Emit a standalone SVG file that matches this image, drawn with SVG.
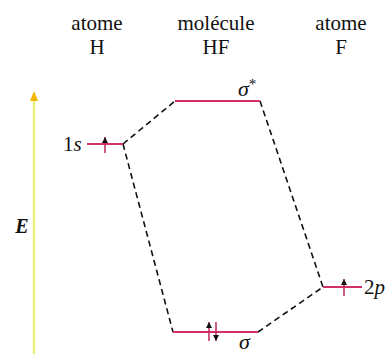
<svg xmlns="http://www.w3.org/2000/svg" width="386" height="354" viewBox="0 0 386 354">
<defs>
<style>
text{font-family:"Liberation Serif","Times New Roman",serif;fill:#111}
.t{font-size:21px;text-anchor:middle}
.lvl{stroke:#d2306a;stroke-width:2;fill:none}
.el{stroke:#c0245a;stroke-width:1.5;fill:none}
.dash{stroke:#111;stroke-width:1.6;stroke-dasharray:6,4;fill:none}
.sym{font-style:italic;font-size:22px}
</style>
<marker id="ah" markerWidth="6" markerHeight="6" refX="6" refY="3" orient="auto" markerUnits="userSpaceOnUse">
<path d="M0,0 L6,3 L0,6 Z" fill="#111"/>
</marker>
</defs>
<rect width="386" height="354" fill="#fff"/>
<g id="headers">
<text class="t" x="97" y="30">atome</text>
<text class="t" x="97" y="54">H</text>
<text class="t" x="216" y="30">molécule</text>
<text class="t" x="216" y="54">HF</text>
<text class="t" x="341" y="30">atome</text>
<text class="t" x="341" y="54">F</text>
</g>
<g id="energy-axis">
<line x1="34" y1="354" x2="34" y2="100" stroke="#e6f07a" stroke-width="2.5"/>
<path d="M30,101 L34,91 L38,101 Z" fill="#f5b800"/>
<text x="22" y="233" font-style="italic" font-weight="bold" font-size="20" text-anchor="middle">E</text>
</g>
<g id="connectors">
<line class="dash" x1="123" y1="144" x2="175" y2="101"/>
<line class="dash" x1="123" y1="144" x2="173" y2="332"/>
<line class="dash" x1="260" y1="101" x2="323" y2="287"/>
<line class="dash" x1="258" y1="332" x2="323" y2="287"/>
</g>
<g id="H-1s">
<line class="lvl" x1="87" y1="144" x2="123" y2="144"/>
<line class="el" x1="105" y1="153" x2="105" y2="137" marker-end="url(#ah)"/>
<text x="63" y="151" font-size="21">1<tspan font-style="italic">s</tspan></text>
</g>
<g id="sigma-star">
<line class="lvl" x1="175" y1="101" x2="260" y2="101"/>
<text class="sym" x="238" y="96">σ<tspan font-size="15" dy="-7" font-style="normal">*</tspan></text>
</g>
<g id="sigma">
<line class="lvl" x1="173" y1="332" x2="258" y2="332"/>
<line class="el" x1="209" y1="341" x2="209" y2="322" marker-end="url(#ah)"/>
<line class="el" x1="216" y1="322" x2="216" y2="341" marker-end="url(#ah)"/>
<text class="sym" x="239" y="349" font-size="20">σ</text>
</g>
<g id="F-2p">
<line class="lvl" x1="323" y1="287" x2="362" y2="287"/>
<line class="el" x1="344" y1="296" x2="344" y2="279" marker-end="url(#ah)"/>
<text x="364" y="294" font-size="21">2<tspan font-style="italic">p</tspan></text>
</g>
</svg>
